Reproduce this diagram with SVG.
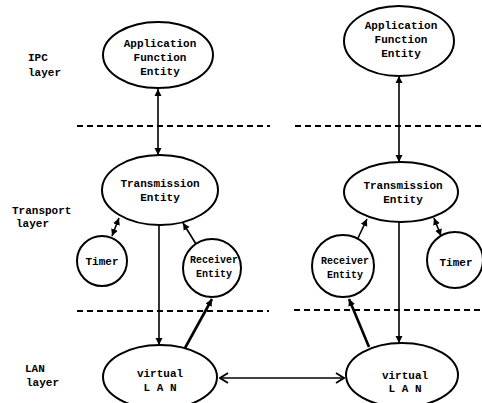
<svg xmlns="http://www.w3.org/2000/svg" width="482" height="403" viewBox="0 0 482 403">
<style>
.n{fill:#fff;stroke:#000;stroke-width:2}
.t{font-family:"Liberation Mono","DejaVu Sans Mono",monospace;font-weight:bold;font-size:11px;fill:#000;text-anchor:middle}
.s{font-size:10px}
.lb{font-family:"Liberation Mono","DejaVu Sans Mono",monospace;font-weight:bold;font-size:11px;fill:#000}
.c{stroke:#000;stroke-width:1.6;fill:none}
.k{stroke-width:2.6}
.d{stroke:#000;stroke-width:2;stroke-dasharray:6 4;fill:none}
</style>
<defs>
<marker id="ah" markerUnits="userSpaceOnUse" markerWidth="8" markerHeight="8" refX="7" refY="4" orient="auto-start-reverse"><path d="M0,0.5 L7,4 L0,7.5 z" fill="#000"/></marker>
<marker id="oh" markerUnits="userSpaceOnUse" markerWidth="10" markerHeight="12" refX="9" refY="6" orient="auto-start-reverse"><path d="M1,1 L9,6 L1,11" fill="none" stroke="#000" stroke-width="1.8"/></marker>
</defs>
<g id="layers">
<text class="lb" x="28" y="61">IPC</text>
<text class="lb" x="28" y="76">layer</text>
<text class="lb" x="12" y="214">Transport</text>
<text class="lb" x="16" y="227">layer</text>
<text class="lb" x="25" y="372">LAN</text>
<text class="lb" x="26" y="386">layer</text>
<path class="d" d="M77,126 H270 M295,126 H482"/>
<path class="d" d="M77,311 H269 M294,310 H482"/>
</g>
<g id="connectors">
<line class="c" x1="158" y1="89" x2="158" y2="155" marker-start="url(#ah)" marker-end="url(#ah)"/>
<line class="c" x1="399" y1="76" x2="399" y2="162" marker-start="url(#ah)" marker-end="url(#ah)"/>
<line class="c" x1="159" y1="225" x2="159" y2="345" marker-end="url(#ah)"/>
<line class="c" x1="399" y1="222" x2="399" y2="343" marker-end="url(#ah)"/>
<line class="c" x1="112" y1="236" x2="119" y2="218" marker-start="url(#ah)" marker-end="url(#ah)"/>
<line class="c" x1="441" y1="236" x2="434" y2="218" marker-start="url(#ah)" marker-end="url(#ah)"/>
<line class="c" x1="196" y1="244" x2="183" y2="223" marker-end="url(#ah)"/>
<line class="c" x1="358" y1="238" x2="367" y2="219" marker-end="url(#ah)"/>
<line class="c k" x1="185" y1="348" x2="212" y2="299" marker-end="url(#ah)"/>
<line class="c k" x1="369" y1="347" x2="349" y2="299" marker-end="url(#ah)"/>
<line class="c" x1="220" y1="378" x2="344" y2="378" marker-start="url(#oh)" marker-end="url(#oh)"/>
</g>
<g id="appL">
<ellipse class="n" cx="158" cy="55" rx="55" ry="33"/>
<text class="t" x="160" y="47">Application</text>
<text class="t" x="160" y="61">Function</text>
<text class="t" x="160" y="75">Entity</text>
</g>
<g id="appR">
<ellipse class="n" cx="399" cy="41" rx="55" ry="35"/>
<text class="t" x="401" y="29">Application</text>
<text class="t" x="401" y="43">Function</text>
<text class="t" x="401" y="57">Entity</text>
</g>
<g id="transL">
<ellipse class="n" cx="160" cy="190" rx="58" ry="35"/>
<text class="t" x="160" y="187">Transmission</text>
<text class="t" x="160" y="201">Entity</text>
</g>
<g id="transR">
<ellipse class="n" cx="401" cy="192" rx="57" ry="30"/>
<text class="t" x="403" y="189">Transmission</text>
<text class="t" x="403" y="203">Entity</text>
</g>
<g id="timerL">
<circle class="n" cx="102" cy="261" r="25"/>
<text class="t" x="102" y="265">Timer</text>
</g>
<g id="recvL">
<circle class="n" cx="212" cy="268" r="29"/>
<text class="t s" x="214" y="263">Receiver</text>
<text class="t s" x="214" y="277">Entity</text>
</g>
<g id="recvR">
<circle class="n" cx="343" cy="266" r="31"/>
<text class="t s" x="345" y="264">Receiver</text>
<text class="t s" x="345" y="278">Entity</text>
</g>
<g id="timerR">
<circle class="n" cx="455" cy="260" r="28"/>
<text class="t" x="456" y="266">Timer</text>
</g>
<g id="lanL">
<ellipse class="n" cx="160" cy="377" rx="57" ry="32"/>
<text class="t" x="160" y="377">virtual</text>
<text class="t" x="160" y="391">L A N</text>
</g>
<g id="lanR">
<ellipse class="n" cx="402" cy="375" rx="56" ry="32"/>
<text class="t" x="405" y="379">virtual</text>
<text class="t" x="405" y="392">L A N</text>
</g>
</svg>
